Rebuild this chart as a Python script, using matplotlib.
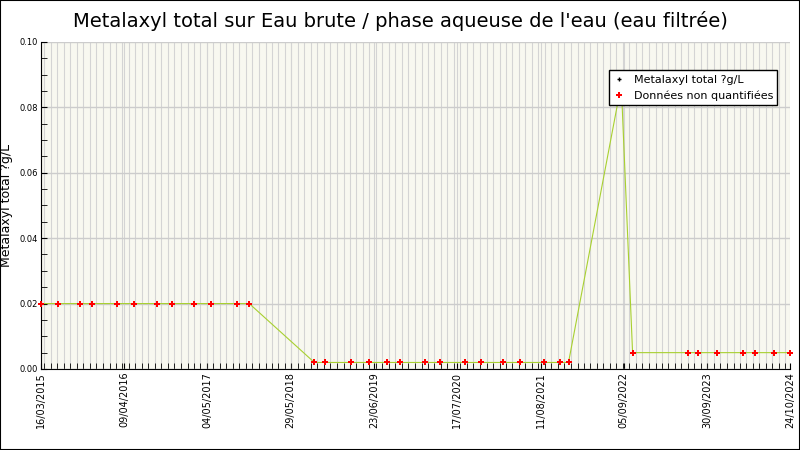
import matplotlib
matplotlib.use("Agg")
import matplotlib.pyplot as plt
import matplotlib.dates as mdates
import pandas as pd

dates = ["2015-03-16", "2015-06-04", "2015-09-16", "2015-11-11", "2016-03-08", "2016-05-26",
         "2016-09-11", "2016-11-20", "2017-03-03", "2017-05-22", "2017-09-18", "2017-11-16",
         "2018-09-17", "2018-11-07", "2019-03-09", "2019-06-01", "2019-08-25", "2019-10-25",
         "2020-02-19", "2020-04-29", "2020-08-20", "2020-11-07", "2021-02-14", "2021-05-09",
         "2021-08-29", "2021-11-12", "2021-12-20", "2022-08-24", "2022-10-16", "2023-07-01",
         "2023-08-16", "2023-11-13", "2024-03-14", "2024-05-10", "2024-08-07", "2024-10-24"]
values = [0.02] * 12 + [0.002] * 15 + [0.087] + [0.005] * 8
quantified = [False] * 27 + [True] + [False] * 8
tick_labels = ["16/03/2015", "09/04/2016", "04/05/2017", "29/05/2018", "23/06/2019",
               "17/07/2020", "11/08/2021", "05/09/2022", "30/09/2023", "24/10/2024"]

x = pd.to_datetime(dates)
fig = plt.figure(figsize=(8, 4.5), dpi=100)
ax = fig.add_axes([0.051, 0.18, 0.937, 0.727])
ax.set_facecolor("#f8f8f0")
ax.plot(x, values, color="#a8d030", lw=0.8, zorder=2)
xq = [d for d, q in zip(x, quantified) if q]
vq = [v for v, q in zip(values, quantified) if q]
xn = [d for d, q in zip(x, quantified) if not q]
vn = [v for v, q in zip(values, quantified) if not q]
ax.plot(xq, vq, "+", color="black", ms=3, zorder=3, clip_on=False, label="Metalaxyl total ?g/L")
ax.plot(xn, vn, "P", color="red", ms=4, mew=0, zorder=3, clip_on=False, label="Données non quantifiées")

ticks = pd.to_datetime(tick_labels, format="%d/%m/%Y")
ax.set_xlim(ticks[0], ticks[-1])
ax.set_xticks(ticks)
ax.set_xticklabels(tick_labels, rotation=90, fontsize=7)
ax.xaxis.set_minor_locator(mdates.MonthLocator())
ax.set_ylim(0, 0.1)
ax.set_yticks([0, 0.02, 0.04, 0.06, 0.08, 0.1])
ax.set_yticklabels(["0.00", "0.02", "0.04", "0.06", "0.08", "0.10"], fontsize=6)
ax.set_yticks([i * 0.005 for i in range(21)], minor=True)
ax.grid(True, which="major", axis="y", color="#cccccc", lw=1)
ax.grid(True, which="minor", axis="x", color="#d4d4d4", lw=0.8)
ax.grid(True, which="major", axis="x", color="#d4d4d4", lw=0.8)
ax.tick_params(which="both", direction="in", length=4, top=False, right=False, pad=2)
for s in ["top", "right"]:
    ax.spines[s].set_visible(False)
ax.set_ylabel("Metalaxyl total ?g/L", fontsize=9)
ax.yaxis.set_label_coords(-0.037, 0.5)
fig.suptitle("Metalaxyl total sur Eau brute / phase aqueuse de l'eau (eau filtrée)", fontsize=14, y=0.975)
leg = ax.legend(loc="upper right", bbox_to_anchor=(0.99, 0.93), fontsize=8, fancybox=False,
                edgecolor="black", framealpha=1, handlelength=1, borderpad=0.4)
fig.patches.append(plt.Rectangle((0, 0), 1, 1, transform=fig.transFigure, fill=False,
                                 edgecolor="black", lw=1.5))
fig.savefig("out.png", dpi=100)
